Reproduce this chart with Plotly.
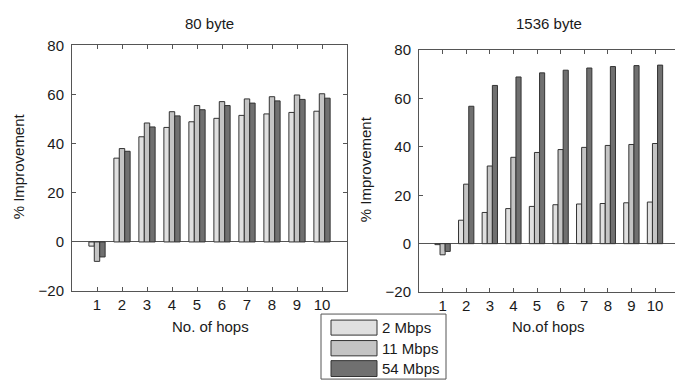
import plotly.graph_objects as go

W, H = 675, 389

hops = [1, 2, 3, 4, 5, 6, 7, 8, 9, 10]
series_names = ["2 Mbps", "11 Mbps", "54 Mbps"]
colors = ["#e0e0e0", "#c4c4c4", "#707070"]

# 80 byte
b80_2 = [-1.7, 34.1, 42.8, 46.6, 48.9, 50.3, 51.5, 52.1, 52.7, 53.2]
b80_11 = [-7.9, 38.0, 48.4, 53.0, 55.5, 57.1, 58.2, 59.1, 59.8, 60.3]
b80_54 = [-6.1, 36.9, 46.8, 51.3, 53.8, 55.5, 56.5, 57.4, 58.0, 58.5]

# 1536 byte
b1536_2 = [-0.4, 9.7, 12.9, 14.5, 15.4, 16.1, 16.4, 16.6, 16.9, 17.2]
b1536_11 = [-4.6, 24.6, 32.1, 35.7, 37.7, 38.9, 39.8, 40.6, 41.0, 41.4]
b1536_54 = [-3.2, 56.8, 65.4, 68.9, 70.6, 71.7, 72.6, 73.2, 73.6, 73.8]

titles = ["80 byte", "1536 byte"]
xtitles = ["No. of hops", "No.of hops"]
ytitle = "% Improvement"
yticks = [-20, 0, 20, 40, 60, 80]

FONT = "Liberation Sans, Arial, sans-serif"
TXT = "#1a1a1a"
LINE = "#555555"


def px(x):
    return x / W


def py(y):
    return 1 - y / H


fig = go.Figure()
for vals, name, col in zip([b80_2, b80_11, b80_54], series_names, colors):
    fig.add_trace(go.Bar(x=hops, y=vals, name=name, marker=dict(color=col, line=dict(color="#333333", width=1)),
                         xaxis="x", yaxis="y", showlegend=False))
for vals, name, col in zip([b1536_2, b1536_11, b1536_54], series_names, colors):
    fig.add_trace(go.Bar(x=hops, y=vals, name=name, marker=dict(color=col, line=dict(color="#333333", width=1)),
                         xaxis="x2", yaxis="y2", showlegend=False))

axis_common = dict(showline=True, linecolor=LINE, linewidth=1, ticks="inside", ticklen=4,
                   tickcolor=LINE, showgrid=False, tickfont=dict(family=FONT, size=15, color=TXT))

fig.update_layout(
    width=W, height=H, autosize=False,
    margin=dict(l=0, r=0, t=0, b=0),
    paper_bgcolor="white", plot_bgcolor="white",
    barmode="group", bargap=0.35, bargroupgap=0,
    font=dict(family=FONT, size=15, color=TXT),
    xaxis=dict(domain=[px(72), px(347)], range=[0, 11], tickvals=hops, mirror="ticks",
               zeroline=False, anchor="y", **axis_common),
    yaxis=dict(domain=[py(295), py(38)], range=[-20, 80], tickvals=yticks, mirror="ticks",
               zeroline=True, zerolinecolor=LINE, zerolinewidth=1, anchor="x",
               ticklabelstandoff=4, **axis_common),
    xaxis2=dict(domain=[px(419), 1], range=[0, (675 - 419) / 23.6], tickvals=hops, mirror="ticks",
                zeroline=False, anchor="y2", **axis_common),
    yaxis2=dict(domain=[py(296), py(43)], range=[-20, 80], tickvals=yticks, mirror=False,
                zeroline=True, zerolinecolor=LINE, zerolinewidth=1, anchor="x2",
                ticklabelstandoff=4, **axis_common),
)

ann = []
for t, x in zip(titles, [209.5, 549]):
    ann.append(dict(text=t, x=px(x), y=py(15), xref="paper", yref="paper", showarrow=False,
                    xanchor="center", yanchor="middle", font=dict(size=15, color=TXT)))
for t, x in zip(xtitles, [210, 548]):
    ann.append(dict(text=t, x=px(x), y=py(332), xref="paper", yref="paper", showarrow=False,
                    xanchor="center", yanchor="middle", font=dict(size=15, color=TXT)))
for x, y in [(18, 164.5), (365, 167.5)]:
    ann.append(dict(text=ytitle, x=px(x), y=py(y), xref="paper", yref="paper", showarrow=False,
                    textangle=-90, xanchor="center", yanchor="middle", font=dict(size=15, color=TXT)))

shapes = [dict(type="rect", xref="paper", yref="paper", x0=px(321), x1=px(446), y0=py(387), y1=py(319),
               line=dict(color=LINE, width=1), fillcolor="white", layer="above")]
sw_y = [(325.3, 341), (346.7, 362.7), (367.7, 384.3)]
for (y0, y1), col, name in zip(sw_y, colors, series_names):
    shapes.append(dict(type="rect", xref="paper", yref="paper", x0=px(331), x1=px(377), y0=py(y1), y1=py(y0),
                       line=dict(color="#333333", width=1), fillcolor=col, layer="above"))
    ann.append(dict(text=name, x=px(380), y=py((y0 + y1) / 2), xref="paper", yref="paper", showarrow=False,
                    xanchor="left", yanchor="middle", font=dict(size=15, color=TXT)))

fig.update_layout(annotations=ann, shapes=shapes)
fig.write_html("out.html")
